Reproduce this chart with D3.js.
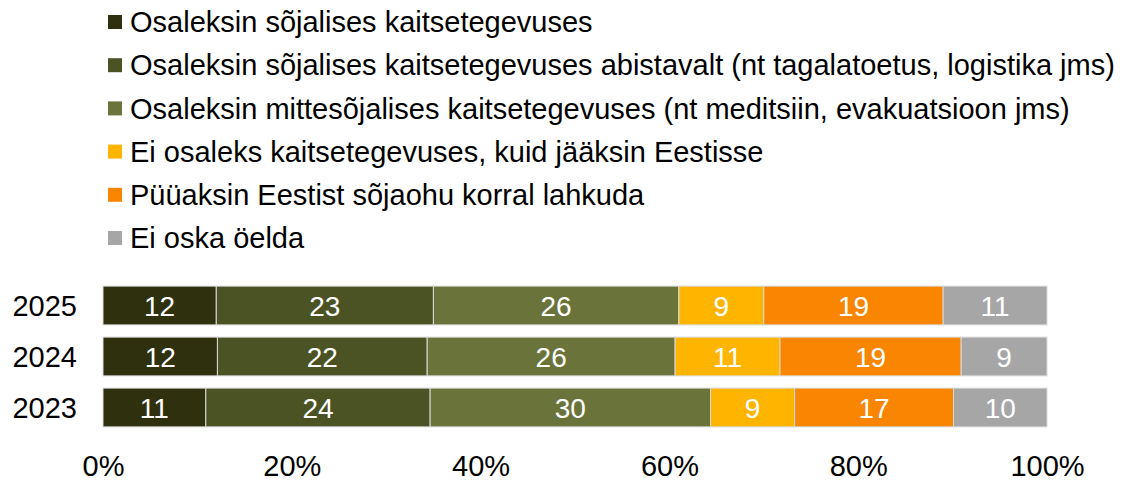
<!DOCTYPE html>
<html>
<head>
<meta charset="utf-8">
<script src="https://cdn.jsdelivr.net/npm/d3@7"></script>
<style>
  body{margin:0;background:#fff;}
  text{font-family:"Liberation Sans",Arial,sans-serif;}
</style>
</head>
<body>
<div id="chart"></div>
<script>
// andmed
var years = ["2025", "2024", "2023"];
var categories = [
  "Osaleksin sõjalises kaitsetegevuses",
  "Osaleksin sõjalises kaitsetegevuses abistavalt (nt tagalatoetus, logistika jms)",
  "Osaleksin mittesõjalises kaitsetegevuses (nt meditsiin, evakuatsioon jms)",
  "Ei osaleks kaitsetegevuses, kuid jääksin Eestisse",
  "Püüaksin Eestist sõjaohu korral lahkuda",
  "Ei oska öelda"
];
var v2025 = [12, 23, 26, 9, 19, 11];
var v2024 = [12, 22, 26, 11, 19, 9];
var v2023 = [11, 24, 30, 9, 17, 10];
var tickValues = [0, 0.2, 0.4, 0.6, 0.8, 1];
var colors = ["#2e300e", "#4b5325", "#6a743a", "#ffb400", "#f98500", "#a6a6a6"];

var W = 1128, H = 483;
var svg = d3.select("#chart").append("svg").attr("width", W).attr("height", H);

// tabel stacki jaoks
var rows = [v2025, v2024, v2023].map(function(arr, i){
  var r = {year: years[i]};
  arr.forEach(function(v, j){ r["k" + j] = v; });
  return r;
});
var keys = categories.map(function(c, j){ return "k" + j; });
var series = d3.stack().keys(keys).offset(d3.stackOffsetExpand)(rows);

var x = d3.scaleLinear().domain([0, 1]).range([103, 1047]);
var y = d3.scaleBand().domain(years).range([280, 433]).paddingInner(0.24).paddingOuter(0.12);
var color = d3.scaleOrdinal().domain(keys).range(colors);

// legend
var legY = d3.scaleLinear().domain([0, 5]).range([22, 238]);
var leg = svg.append("g").selectAll("g").data(categories).enter().append("g")
  .attr("transform", function(d, i){ return "translate(0," + legY(i) + ")"; });
leg.append("rect").attr("x", 108).attr("y", -7).attr("width", 14).attr("height", 14)
  .attr("fill", function(d, i){ return colors[i]; });
leg.append("text").attr("x", 130).attr("dy", "0.35em")
  .attr("font-size", 29).attr("fill", "#000").text(function(d){ return d; });

// tulbad
var g = svg.append("g");
series.forEach(function(s, j){
  var grp = g.append("g");
  grp.selectAll("rect").data(s).enter().append("rect")
    .attr("x", function(d){ return x(d[0]); })
    .attr("y", function(d){ return y(d.data.year); })
    .attr("width", function(d){ return x(d[1]) - x(d[0]); })
    .attr("height", y.bandwidth())
    .attr("fill", color(s.key))
    .attr("stroke", "#d9d9d9").attr("stroke-width", 1);
  grp.selectAll("text").data(s).enter().append("text")
    .attr("x", function(d){ return (x(d[0]) + x(d[1])) / 2; })
    .attr("y", function(d){ return y(d.data.year) + y.bandwidth() / 2; })
    .attr("dy", "0.36em").attr("text-anchor", "middle")
    .attr("font-size", 28).attr("fill", "#fff")
    .text(function(d){ return d.data[s.key]; });
});

// y telg
var yAxis = svg.append("g").attr("transform", "translate(77,0)")
  .call(d3.axisLeft(y).tickSize(0).tickPadding(0));
yAxis.select(".domain").remove();
yAxis.selectAll("text").attr("font-size", 29).attr("fill", "#000").attr("dy", "0.36em")
  .style("font-family", '"Liberation Sans",Arial,sans-serif');

// x telg
var xAxis = svg.append("g").attr("transform", "translate(0,466)")
  .call(d3.axisBottom(x).tickValues(tickValues).tickFormat(d3.format(".0%")).tickSize(0).tickPadding(0));
xAxis.select(".domain").remove();
xAxis.selectAll("text").attr("font-size", 29).attr("fill", "#000").attr("dy", "0.36em")
  .style("font-family", '"Liberation Sans",Arial,sans-serif');
</script>
</body>
</html>
